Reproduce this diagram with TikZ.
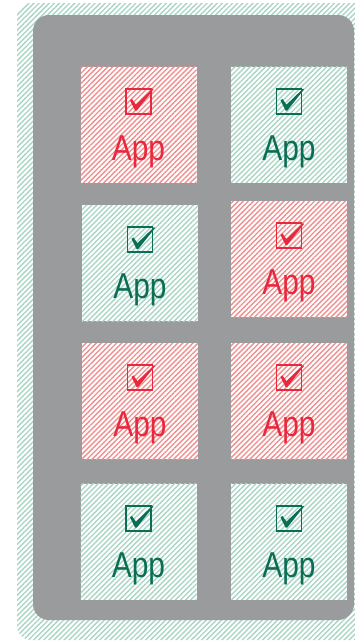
\documentclass[tikz,border=0pt]{standalone}
\usepackage{fontspec}
\setmainfont{Liberation Sans}
\usetikzlibrary{patterns.meta}
\definecolor{appred}{HTML}{E8283C}
\definecolor{appgreen}{HTML}{0A6E55}
\definecolor{hatchred}{HTML}{F08E8E}
\definecolor{hatchgreen}{HTML}{A8D5C4}
\definecolor{panelgray}{HTML}{9A9B9D}
\tikzset{
  hatchfill/.style={preaction={fill=white},
    pattern={Lines[angle=45,distance=3.6pt,line width=1.35pt]}, pattern color=#1},
  appbox/.style={draw=none, inner sep=0pt, minimum width=116pt, minimum height=116pt, hatchfill=#1},
  applabel/.style={anchor=base, inner sep=0pt, text=#1, font=\fontsize{36}{36}\selectfont},
  pics/chk/.style={code={
    \draw[#1, line width=1.8pt] (-12.5,-12.5) rectangle (12.5,12.5);
    \fill[#1] (-8.5,-1) -- (-6.5,-2.4) -- (-2.6,3.4) -- (14,-12.6) -- (14.9,-11.7) -- (-1.8,9.3) -- (-3.4,9.3) -- cycle;
  }}
}
\newcommand{\appcell}[5]{%
  \node[appbox=#4] (#1) at (#2,#3) {};
  \path (#1.north) ++(0,35) pic {chk=#5};
  \node[applabel=#5] (#1t) at ([yshift=-94pt]#1.north) {\scalebox{0.83}[1]{App}};
}
\begin{document}
\begin{tikzpicture}[x=1pt,y=-1pt]
\useasboundingbox (0,0) rectangle (355,643);
\clip (0,0) rectangle (355,643);
\path[hatchfill=hatchgreen, rounded corners=14pt] (17,3) rectangle (375,640);
\fill[panelgray, rounded corners=16pt] (33,15) rectangle (354,620);
\appcell{a1}{138.5}{124.5}{hatchred}{appred}
\appcell{b1}{289}{124.5}{hatchgreen}{appgreen}
\appcell{a2}{140}{263}{hatchgreen}{appgreen}
\appcell{b2}{289}{259}{hatchred}{appred}
\appcell{a3}{140}{401}{hatchred}{appred}
\appcell{b3}{289}{401}{hatchred}{appred}
\appcell{a4}{138.5}{541.5}{hatchgreen}{appgreen}
\appcell{b4}{289}{541.5}{hatchgreen}{appgreen}
\end{tikzpicture}
\end{document}
